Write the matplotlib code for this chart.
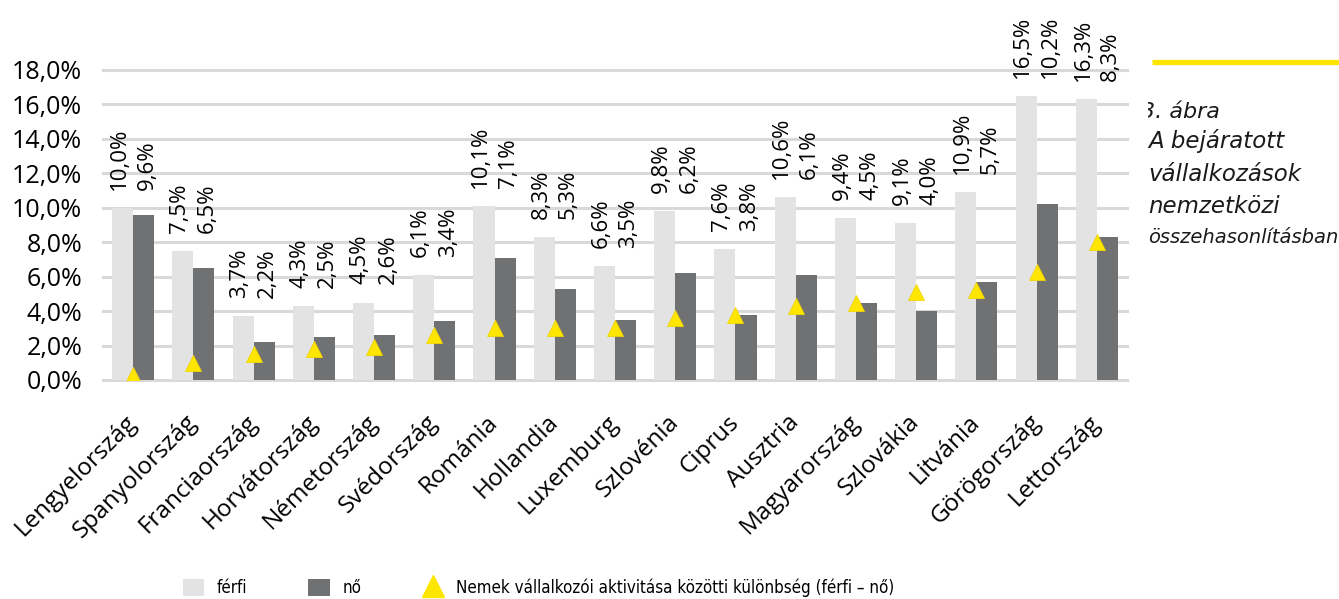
import numpy as np
import matplotlib
matplotlib.use("Agg")
import matplotlib.pyplot as plt
from matplotlib.patches import Patch
from matplotlib.lines import Line2D
from matplotlib.transforms import Bbox
from matplotlib.ticker import FuncFormatter

# --- data -------------------------------------------------------------
orszagok = ["Lengyelország", "Spanyolország", "Franciaország", "Horvátország",
            "Németország", "Svédország", "Románia", "Hollandia", "Luxemburg",
            "Szlovénia", "Ciprus", "Ausztria", "Magyarország", "Szlovákia",
            "Litvánia", "Görögország", "Lettország"]
ferfi = [10.0, 7.5, 3.7, 4.3, 4.5, 6.1, 10.1, 8.3, 6.6, 9.8, 7.6, 10.6, 9.4,
         9.1, 10.9, 16.5, 16.3]
no = [9.6, 6.5, 2.2, 2.5, 2.6, 3.4, 7.1, 5.3, 3.5, 6.2, 3.8, 6.1, 4.5,
      4.0, 5.7, 10.2, 8.3]
kulonbseg = [0.3, 1.0, 1.5, 1.8, 1.9, 2.6, 3.0, 3.0, 3.0, 3.6, 3.8, 4.3, 4.5,
             5.1, 5.2, 6.3, 8.0]
y_ticks = [0, 2, 4, 6, 8, 10, 12, 14, 16, 18]

# --- style ------------------------------------------------------------
C_FERFI = "#E3E3E3"
C_NO = "#707173"
C_YELLOW = "#FFE600"
C_GRID = "#D9D9D9"
FONT = ["Open Sans", "DejaVu Sans"]
plt.rcParams["font.family"] = FONT


def pct(v):
    return f"{v:.1f}%".replace(".", ",")


W, H = 1339, 599
fig = plt.figure(figsize=(W / 100, H / 100), dpi=100)
fig.patch.set_facecolor("white")
ax = fig.add_axes([103 / W, 219 / H, 1024 / W, 310 / H])

x = np.arange(len(orszagok))
bw = 0.35
ax.bar(x - bw / 2, ferfi, bw, color=C_FERFI, zorder=2)
ax.bar(x + bw / 2, no, bw, color=C_NO, zorder=2)
ax.plot(x, kulonbseg, linestyle="none", marker="^", markersize=12,
        color=C_YELLOW, markeredgecolor="#F2D500", markeredgewidth=0.6,
        zorder=3)

# value labels, both placed above the taller (férfi) bar
lab_dx = 0.23
for i in range(len(orszagok)):
    top = max(ferfi[i], no[i])
    for dx, v in ((-lab_dx, ferfi[i]), (lab_dx, no[i])):
        ax.annotate(pct(v), xy=(x[i] + dx, top), xytext=(0, 13),
                    textcoords="offset points", rotation=90,
                    ha="center", va="bottom", fontsize=16, color="black",
                    annotation_clip=False)

ax.set_xlim(-0.5, len(orszagok) - 0.5)
ax.set_ylim(0, 18)
ax.set_yticks(y_ticks)
ax.yaxis.set_major_formatter(FuncFormatter(lambda v, _: pct(v)))
ax.grid(axis="y", color=C_GRID, linewidth=2.2, zorder=0)
ax.set_axisbelow(True)
for gl in ax.get_ygridlines():
    gl.set_clip_on(False)
for s in ax.spines.values():
    s.set_visible(False)
ax.tick_params(axis="y", length=0, pad=15, labelsize=18)
ax.tick_params(axis="x", length=0, pad=28, labelsize=17.5)
ax.set_xticks(x)
ax.set_xticklabels(orszagok, rotation=45, ha="right", va="center",
                   rotation_mode="anchor")

# legend
handles = [Patch(facecolor=C_FERFI, edgecolor="none"),
           Patch(facecolor=C_NO, edgecolor="none"),
           Line2D([], [], linestyle="none", marker="^", markersize=16,
                  color=C_YELLOW)]
labels = ["férfi", "nő",
          "Nemek vállalkozói aktivitása közötti különbség (férfi – nő)"]
fig.legend(handles, labels, loc="center left",
           bbox_to_anchor=(183 / W, 1 - 588 / H), ncol=3, frameon=False,
           prop={"family": "DejaVu Sans", "stretch": "condensed",
                 "size": 12.2},
           handlelength=1.25, handleheight=1.2, handletextpad=0.75,
           columnspacing=3.6, borderpad=0, borderaxespad=0)

# figure caption block on the right
fig.add_artist(Line2D([1152 / W, 1.0], [1 - 62 / H] * 2, color=C_YELLOW,
                      linewidth=3.8, solid_capstyle="butt"))
cap = fig.text(1141 / W, 1 - 118 / H, "3. ábra", style="italic",
               family="DejaVu Sans", fontsize=16, color="#1A1A1A",
               va="baseline")
cap.set_clip_box(Bbox.from_extents(1148, 0, W, H))
cap.set_clip_on(True)
for txt, base, size in (("A bejáratott", 148, 16.5),
                        ("vállalkozások", 181, 16.5),
                        ("nemzetközi", 213, 16.5),
                        ("összehasonlításban", 243, 14)):
    fig.text(1148 / W, 1 - base / H, txt, style="italic",
             family="DejaVu Sans", fontsize=size, color="#1A1A1A",
             va="baseline")

fig.savefig("out.png", dpi=100, facecolor="white")
